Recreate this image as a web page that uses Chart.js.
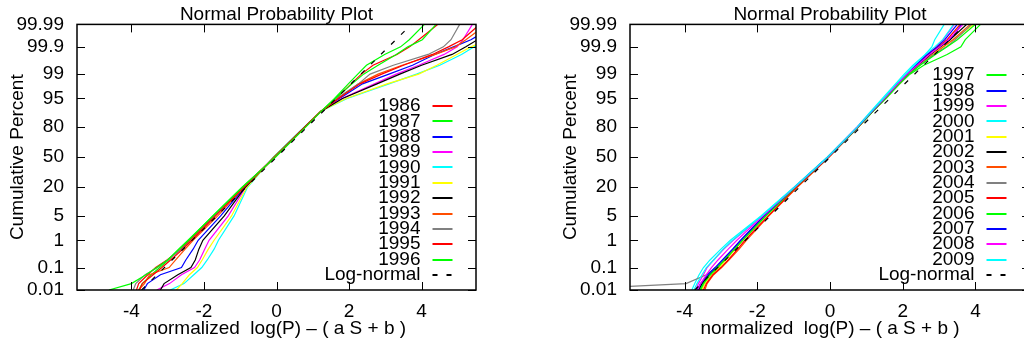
<!DOCTYPE html>
<html lang="en">
<head>
<meta charset="UTF-8">
<title>Normal Probability Plot</title>
<script src="https://cdn.jsdelivr.net/npm/chart.js"></script>
<style>
  html, body { margin: 0; padding: 0; background: #fff; overflow: hidden; width: 1024px; height: 342px; }
  canvas { position: absolute; top: 0; }
  #plotA { left: 0; }
  #plotB { left: 553px; }
</style>
</head>
<body>
<canvas id="plotA" width="486" height="342"></canvas>
<canvas id="plotB" width="487" height="342"></canvas>
<script>
// cumulative percent levels shared by every curve
const pctLevels = [0.01, 0.02, 0.05, 0.1, 0.2, 0.5, 1, 5, 20, 50, 80, 90, 95, 98, 99, 99.5, 99.8, 99.9, 99.95, 99.99];

// y ticks (cumulative percent) and x ticks
const yTickPct = [0.01, 0.1, 1, 5, 20, 50, 80, 95, 99, 99.9, 99.99];
const yTickText = ['0.01', '0.1', '1', '5', '20', '50', '80', '95', '99', '99.9', '99.99'];
const xTicks = [-4, -2, 0, 2, 4];

// log-normal reference line
const refPct = [0.01, 99.99];
const refX = [-3.719, 3.719];

// left panel, normalized value at each level
const yearsA = ['1986', '1987', '1988', '1989', '1990', '1991', '1992', '1993', '1994', '1995', '1996'];
const x1986 = [-3.86, -3.80, -3.55, -3.33, -3.02, -2.64, -2.40, -1.72, -0.93, -0.05, 0.78, 1.22, 1.64, 2.06, 2.34, 2.66, 3.32, 3.67, 3.92, 4.45];
const x1987 = [-3.80, -3.70, -3.45, -3.22, -2.98, -2.68, -2.42, -1.76, -0.95, -0.03, 0.80, 1.23, 1.60, 1.98, 2.24, 2.48, 2.98, 3.42, 3.66, 4.08];
const x1988 = [-3.66, -3.56, -3.20, -2.62, -2.50, -2.30, -2.16, -1.54, -0.88, -0.06, 0.78, 1.22, 1.74, 2.37, 3.10, 3.75, 4.36, 4.88, 5.36, 6.10];
const x1989 = [-3.30, -2.95, -2.62, -2.26, -2.12, -1.98, -1.86, -1.33, -0.85, -0.07, 0.77, 1.22, 1.80, 2.70, 3.30, 3.92, 4.62, 4.98, 5.14, 5.40];
const x1990 = [-2.93, -2.55, -2.28, -2.06, -1.91, -1.72, -1.60, -1.17, -0.80, -0.09, 0.76, 1.21, 1.95, 3.10, 3.86, 4.50, 5.10, 5.45, 5.80, 6.50];
const x1991 = [-2.76, -2.60, -2.40, -2.18, -2.05, -1.88, -1.72, -1.24, -0.82, -0.08, 0.77, 1.21, 1.92, 3.05, 3.92, 4.42, 4.97, 5.36, 5.80, 6.50];
const x1992 = [-3.20, -3.10, -2.72, -2.36, -2.24, -2.14, -2.03, -1.44, -0.86, -0.07, 0.77, 1.22, 1.82, 2.77, 3.40, 4.00, 4.84, 5.22, 5.54, 6.30];
const x1993 = [-3.80, -3.64, -3.50, -2.96, -2.78, -2.52, -2.30, -1.62, -0.90, -0.06, 0.78, 1.22, 1.70, 2.26, 2.80, 3.46, 4.38, 4.93, 5.22, 5.80];
const x1994 = [-3.95, -3.88, -3.62, -3.28, -3.00, -2.62, -2.34, -1.70, -0.92, -0.05, 0.79, 1.22, 1.66, 2.26, 2.58, 3.22, 4.18, 4.60, 4.81, 5.05];
const x1995 = [-3.78, -3.70, -3.40, -3.16, -2.92, -2.58, -2.34, -1.68, -0.91, -0.05, 0.78, 1.22, 1.70, 2.30, 2.90, 3.50, 4.30, 4.74, 5.12, 5.60];
const x1996 = [-4.62, -4.00, -3.60, -3.30, -3.00, -2.70, -2.44, -1.75, -0.94, -0.04, 0.80, 1.23, 1.62, 2.08, 2.40, 2.80, 3.30, 3.62, 4.02, 4.40];

// right panel
const yearsB = ['1997', '1998', '1999', '2000', '2001', '2002', '2003', '2004', '2005', '2006', '2007', '2008', '2009'];
const x1997 = [-3.55, -3.45, -3.25, -3.08, -2.88, -2.62, -2.42, -1.76, -0.95, -0.05, 0.78, 1.18, 1.54, 1.92, 2.20, 2.58, 3.22, 3.60, 3.72, 4.14];
const x1998 = [-3.60, -3.50, -3.30, -3.10, -2.92, -2.66, -2.44, -1.80, -0.96, -0.06, 0.76, 1.16, 1.50, 1.88, 2.14, 2.40, 2.80, 2.98, 3.30, 3.62];
const x1999 = [-3.70, -3.62, -3.48, -3.38, -3.20, -2.92, -2.66, -1.86, -0.98, -0.07, 0.74, 1.14, 1.48, 1.84, 2.10, 2.36, 2.66, 2.92, 3.12, 3.42];
const x2000 = [-3.80, -3.72, -3.60, -3.48, -3.30, -3.00, -2.74, -1.90, -0.99, -0.08, 0.74, 1.12, 1.44, 1.80, 2.04, 2.28, 2.62, 2.80, 2.88, 3.14];
const x2001 = [-3.52, -3.44, -3.24, -3.04, -2.86, -2.60, -2.40, -1.76, -0.95, -0.05, 0.77, 1.17, 1.52, 1.90, 2.16, 2.44, 2.78, 3.10, 3.40, 3.95];
const x2002 = [-3.62, -3.52, -3.32, -3.12, -2.90, -2.64, -2.42, -1.80, -0.96, -0.06, 0.76, 1.16, 1.50, 1.88, 2.14, 2.42, 2.76, 3.04, 3.30, 3.76];
const x2003 = [-3.44, -3.38, -3.20, -2.98, -2.78, -2.50, -2.30, -1.68, -0.90, -0.03, 0.78, 1.18, 1.52, 1.90, 2.18, 2.46, 2.84, 3.12, 3.38, 3.86];
const x2004 = [-7.50, -3.96, -3.40, -3.14, -2.92, -2.64, -2.42, -1.78, -0.95, -0.05, 0.77, 1.17, 1.52, 1.90, 2.18, 2.46, 2.86, 3.20, 3.44, 3.90];
const x2005 = [-3.48, -3.40, -3.22, -3.00, -2.80, -2.54, -2.34, -1.70, -0.92, -0.04, 0.77, 1.17, 1.50, 1.86, 2.12, 2.38, 2.70, 2.96, 3.22, 3.58];
const x2006 = [-3.58, -3.48, -3.30, -3.10, -2.90, -2.62, -2.40, -1.76, -0.95, -0.05, 0.77, 1.18, 1.52, 1.90, 2.18, 2.48, 2.90, 3.22, 3.50, 4.00];
const x2007 = [-3.66, -3.56, -3.36, -3.16, -2.96, -2.68, -2.46, -1.82, -0.97, -0.06, 0.76, 1.16, 1.50, 1.86, 2.12, 2.36, 2.68, 2.94, 3.16, 3.50];
const x2008 = [-3.64, -3.56, -3.40, -3.26, -3.08, -2.80, -2.56, -1.84, -0.97, -0.06, 0.75, 1.15, 1.49, 1.86, 2.12, 2.40, 2.74, 3.02, 3.26, 3.66];
const x2009 = [-3.74, -3.66, -3.52, -3.40, -3.20, -2.94, -2.68, -1.88, -0.98, -0.07, 0.75, 1.14, 1.47, 1.82, 2.08, 2.32, 2.62, 2.88, 3.10, 3.40];

const seriesA = [x1986, x1987, x1988, x1989, x1990, x1991, x1992, x1993, x1994, x1995, x1996];
const seriesB = [x1997, x1998, x1999, x2000, x2001, x2002, x2003, x2004, x2005, x2006, x2007, x2008, x2009];

// gnuplot postscript line colours
const palette = ['#ff0000', '#00ff00', '#0000ff', '#ff00ff', '#00ffff', '#ffff00', '#000000', '#ff4d00', '#808080'];

// inverse normal cdf (Acklam)
function probit(p) {
  const a = [-39.69683028665376, 220.9460984245205, -275.9285104469687, 138.3577518672690, -30.66479806614716, 2.506628277459239];
  const b = [-54.47609879822406, 161.5858368580409, -155.6989798598866, 66.80131188771972, -13.28068155288572];
  const c = [-0.007784894002430293, -0.3223964580411365, -2.400758277161838, -2.549671348133960, 4.374664141464968, 2.938163982698783];
  const d = [0.007784695709041462, 0.3224671290700398, 2.445134137142996, 3.754408661907416];
  const plow = 0.02425;
  let q, r;
  if (p < plow) {
    q = Math.sqrt(-2 * Math.log(p));
    return (((((c[0]*q+c[1])*q+c[2])*q+c[3])*q+c[4])*q+c[5]) / ((((d[0]*q+d[1])*q+d[2])*q+d[3])*q+1);
  }
  if (p > 1 - plow) {
    q = Math.sqrt(-2 * Math.log(1 - p));
    return -(((((c[0]*q+c[1])*q+c[2])*q+c[3])*q+c[4])*q+c[5]) / ((((d[0]*q+d[1])*q+d[2])*q+d[3])*q+1);
  }
  q = p - 0.5; r = q * q;
  return (((((a[0]*r+a[1])*r+a[2])*r+a[3])*r+a[4])*r+a[5])*q / (((((b[0]*r+b[1])*r+b[2])*r+b[3])*r+b[4])*r+1);
}

const FONT = '"Liberation Sans", Arial, Helvetica, sans-serif';
Chart.defaults.font.family = FONT;
Chart.defaults.font.size = 19;
Chart.defaults.color = '#000';

// border box with inward ticks on all four sides
const framePlugin = {
  id: 'frame',
  afterDatasetsDraw(chart) {
    const { ctx, chartArea: a, scales: { x, y } } = chart;
    ctx.save();
    ctx.strokeStyle = '#000';
    ctx.lineWidth = 1;
    ctx.beginPath();
    x.ticks.forEach(t => {
      const px = Math.round(x.getPixelForValue(t.value)) + 0.5;
      ctx.moveTo(px, a.bottom); ctx.lineTo(px, a.bottom - 8);
      ctx.moveTo(px, a.top); ctx.lineTo(px, a.top + 8);
    });
    y.ticks.forEach(t => {
      const py = Math.round(y.getPixelForValue(t.value)) + 0.5;
      ctx.moveTo(a.left, py); ctx.lineTo(a.left + 8, py);
      ctx.moveTo(a.right, py); ctx.lineTo(a.right - 8, py);
    });
    ctx.stroke();
    ctx.lineWidth = 1.5;
    ctx.strokeRect(a.left, a.top, a.right - a.left, a.bottom - a.top);
    ctx.restore();
  }
};

// gnuplot style key: right aligned text, sample to its right, anchored at the bottom
const keyPlugin = {
  id: 'gnukey',
  afterDraw(chart) {
    const { ctx, chartArea: a } = chart;
    const sets = chart.data.datasets;
    const step = 15.37;
    const textEnd = a.right - 55.5;
    ctx.save();
    ctx.font = '19px ' + FONT;
    ctx.textAlign = 'right';
    ctx.textBaseline = 'middle';
    sets.forEach((ds, i) => {
      const yy = a.bottom - 15 - (sets.length - 1 - i) * step;
      ctx.fillStyle = '#000';
      ctx.fillText(ds.label, textEnd, yy);
      ctx.strokeStyle = ds.borderColor;
      ctx.lineWidth = 2;
      ctx.setLineDash(ds.borderDash || []);
      ctx.beginPath();
      ctx.moveTo(textEnd + 12, Math.round(yy));
      ctx.lineTo(textEnd + 32, Math.round(yy));
      ctx.stroke();
    });
    ctx.restore();
  }
};

function makeChart(id, years, series, colourStart) {
  const n = series.length;
  const datasets = series.map((xs, i) => ({
    label: years[i],
    data: xs.map((v, k) => ({ x: v, y: probit(pctLevels[k] / 100) })),
    borderColor: palette[(i + colourStart) % palette.length],
    borderWidth: 1.2,
    pointRadius: 0,
    showLine: true,
    fill: false,
    order: n - i + 1
  }));
  datasets.push({
    label: 'Log-normal',
    data: refX.map((v, k) => ({ x: v, y: probit(refPct[k] / 100) })),
    borderColor: '#000',
    borderWidth: 1.2,
    borderDash: [5, 9],
    pointRadius: 0,
    showLine: true,
    fill: false,
    order: 0
  });

  return new Chart(document.getElementById(id), {
    type: 'scatter',
    data: { datasets },
    options: {
      responsive: false,
      animation: false,
      devicePixelRatio: 1,
      layout: { padding: { top: 0, right: 10, bottom: 0, left: 0 } },
      plugins: {
        legend: { display: false },
        tooltip: { enabled: false },
        title: {
          display: true,
          text: 'Normal Probability Plot',
          fullSize: false,
          color: '#000',
          font: { size: 19, weight: 'normal', lineHeight: 1 },
          padding: { top: 4, bottom: 0 }
        }
      },
      scales: {
        x: {
          type: 'linear',
          min: -5.5,
          max: 5.5,
          grid: { display: false, drawTicks: false },
          border: { display: false },
          afterBuildTicks: s => { s.ticks = xTicks.map(v => ({ value: v })); },
          afterFit: s => { s.height = 52; },
          ticks: { padding: 10, autoSkip: false, maxRotation: 0, callback: v => String(v) },
          title: {
            display: true,
            text: 'normalized  log(P) \u2013 ( a S + b )',
            padding: { top: 0, bottom: 2 }
          }
        },
        y: {
          type: 'linear',
          min: probit(0.0001),
          max: probit(0.9999),
          grid: { display: false, drawTicks: false },
          border: { display: false },
          afterBuildTicks: s => { s.ticks = yTickPct.map(p => ({ value: probit(p / 100) })); },
          afterFit: s => { s.width = 77; },
          ticks: { padding: 13, autoSkip: false, callback: (v, i) => yTickText[i] },
          title: {
            display: true,
            text: 'Cumulative Percent',
            padding: { top: 6, bottom: 0 }
          }
        }
      }
    },
    plugins: [framePlugin, keyPlugin]
  });
}

makeChart('plotA', yearsA, seriesA, 0);
makeChart('plotB', yearsB, seriesB, 1);
</script>
</body>
</html>
